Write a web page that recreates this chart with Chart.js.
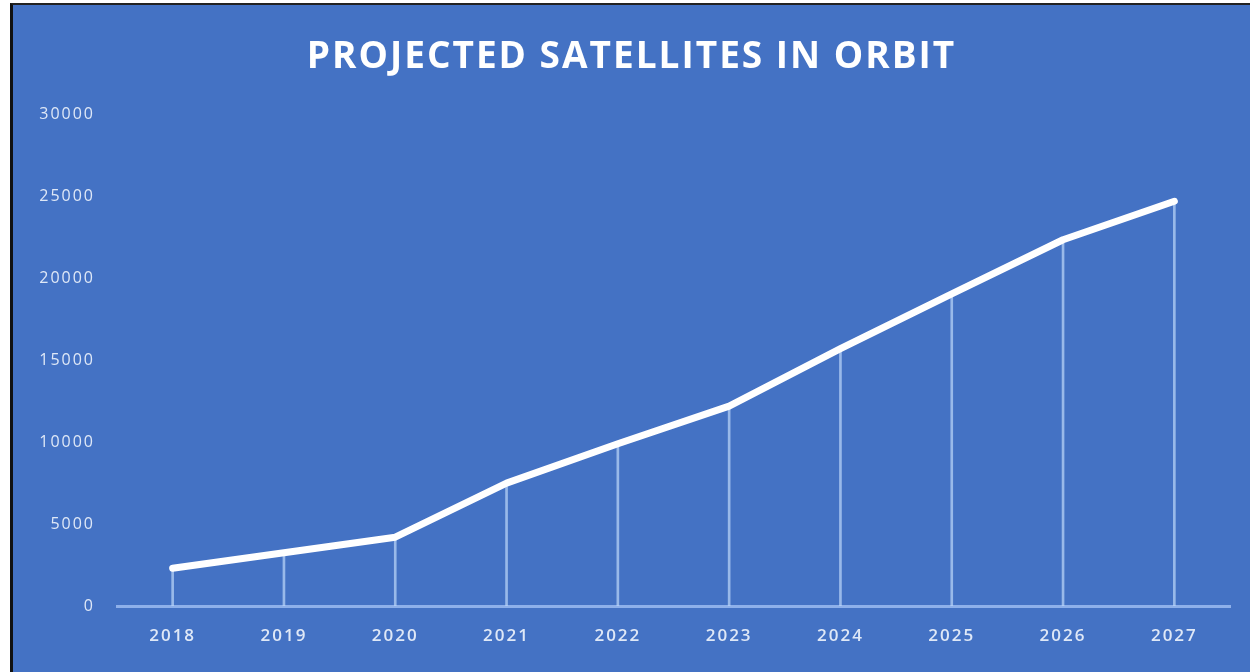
<!DOCTYPE html>
<html>
<head>
<meta charset="utf-8">
<script src="https://cdn.jsdelivr.net/npm/chart.js@4.4.1/dist/chart.umd.min.js"></script>
<style>
  html, body { margin: 0; padding: 0; background: #fff; }
  #frame {
    position: absolute; left: 10px; top: 3px; width: 1237px; height: 667px;
    border-left: 3px solid #111; border-top: 2px solid #222;
    background: #4472c4;
  }
  #chart { display: block; }
</style>
</head>
<body>
<div id="frame"><canvas id="chart" width="1237" height="667"></canvas></div>
<script>
// Jahre auf der x-Achse
const years = ['2018', '2019', '2020', '2021', '2022', '2023', '2024', '2025', '2026', '2027'];
// Geschätzte Satelliten im Orbit
const satellites = [2300, 3250, 4200, 7500, 9900, 12200, 15700, 19050, 22350, 24700];
// Y-Achse
const yMin = 0;
const yMax = 30000;
const yStep = 5000;

const chartTitle = 'PROJECTED SATELLITES IN ORBIT';

// etwas Buchstabenabstand wie im Original
const spacingPlugin = {
    id: 'spacing',
    beforeDraw(chart) {
        chart.ctx.letterSpacing = '2px';
    }
};

const ctx = document.getElementById('chart');

new Chart(ctx, {
    data: {
        labels: years,
        datasets: [
            {
                type: 'line',
                data: satellites,
                borderColor: '#ffffff',
                borderWidth: 7,
                borderCapStyle: 'round',
                borderJoinStyle: 'round',
                pointRadius: 0,
                tension: 0,
                order: 1
            },
            {
                // dünne Fallinien vom Punkt zur Achse
                type: 'bar',
                data: satellites,
                backgroundColor: 'rgba(190, 215, 250, 0.7)',
                barThickness: 2,
                order: 2
            }
        ]
    },
    options: {
        responsive: false,
        animation: false,
        layout: { padding: 0 },
        plugins: {
            legend: { display: false },
            tooltip: { enabled: false },
            title: {
                display: true,
                text: chartTitle,
                color: '#ffffff',
                font: { family: 'Open Sans', size: 37, weight: 'bold' },
                padding: { top: 30, bottom: 35 }
            }
        },
        scales: {
            x: {
                offset: true,
                grid: { display: false, drawTicks: false },
                border: { display: true, color: '#8eb0ea', width: 3 },
                ticks: {
                    color: '#dfe8f7',
                    font: { family: 'Open Sans', size: 17, weight: '600' },
                    padding: 20
                },
                afterFit(scale) { scale.height = 66; }
            },
            y: {
                min: yMin,
                max: yMax,
                grid: { display: false, drawTicks: false },
                border: { display: false },
                ticks: {
                    stepSize: yStep,
                    color: '#dfe8f7',
                    font: { family: 'Open Sans', size: 16 },
                    padding: 22,
                    callback: value => String(value)
                },
                afterFit(scale) { scale.width = 104; }
            },
            // leere Achse rechts, nur als Abstand
            yRight: {
                position: 'right',
                grid: { display: false, drawTicks: false },
                border: { display: false },
                ticks: { display: false },
                afterFit(scale) { scale.width = 20; }
            }
        }
    },
    plugins: [spacingPlugin]
});
</script>
</body>
</html>
